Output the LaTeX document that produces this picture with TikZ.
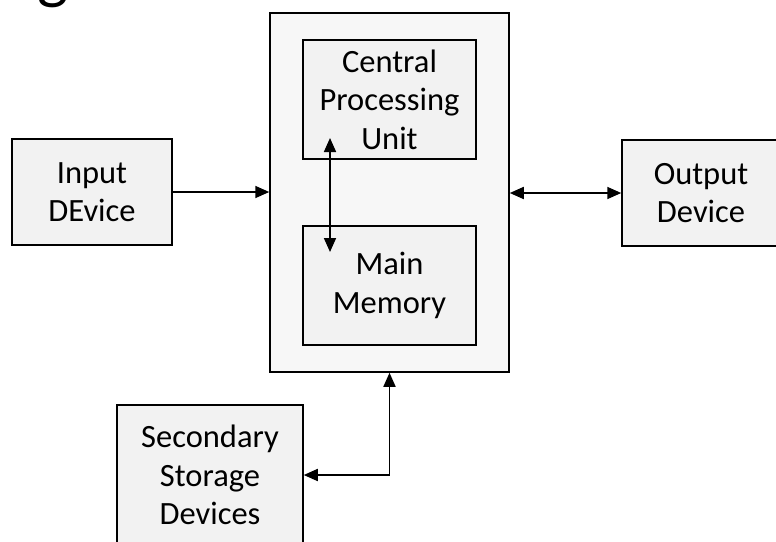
\documentclass[tikz,border=0pt]{standalone}
\usepackage{fontspec}
\setmainfont{Carlito}
\usetikzlibrary{arrows.meta,calc}
\definecolor{boxgray}{HTML}{F2F2F2}
\definecolor{outergray}{HTML}{F7F7F7}
\tikzset{
  box/.style={draw=black, line width=1.5pt, fill=boxgray, inner sep=0pt, align=center,
              font=\fontsize{32.5}{38.5}\selectfont},
  conn/.style={line width=1.7pt, draw=black},
  tip/.style={-{Triangle[length=14pt,width=12pt]}},
  tips/.style={{Triangle[length=14pt,width=12pt]}-{Triangle[length=14pt,width=12pt]}}
}
\begin{document}
\begin{tikzpicture}[x=1pt,y=-1pt]
\useasboundingbox (0,0) rectangle (776,541);
\clip (0,0) rectangle (776,541);
\fill[white] (0,0) rectangle (776,541);
% partial title glyph
\node[font=\fontsize{66}{70}\selectfont, anchor=base, inner sep=0pt] (title) at (53,-4) {g};
% boxes
\node[box, fill=outergray, minimum width=239pt, minimum height=359pt] (outer) at (389.5,192.5) {};
\node[box, minimum width=173pt, minimum height=119pt] (cpu) at (389.5,99.5) {Central\\Processing\\Unit};
\node[box, minimum width=173pt, minimum height=119pt] (mem) at (389.5,285.5) {Main\\Memory};
\node[box, minimum width=160pt, minimum height=106pt] (input) at (92,192) {Input\\DEvice};
\node[box, minimum width=168pt, minimum height=106pt, text width=150pt] (output) at (706,193) {\hspace*{-10pt}Output\\\hspace*{-10pt}Device};
\node[box, minimum width=186pt, minimum height=140pt] (sec) at (210,475) {Secondary\\Storage\\Devices};
% connectors
\coordinate (cpuport) at (330,138);
\coordinate (memport) at (330,252);
\draw[conn, tips] (cpuport) -- (memport);
\draw[conn, tip] (input.east) -- (input.east -| outer.west);
\draw[conn, tips] (output.west -| outer.east) -- (output.west);
\draw[conn, tips] (sec.east) -| (outer.south);
\end{tikzpicture}
\end{document}
